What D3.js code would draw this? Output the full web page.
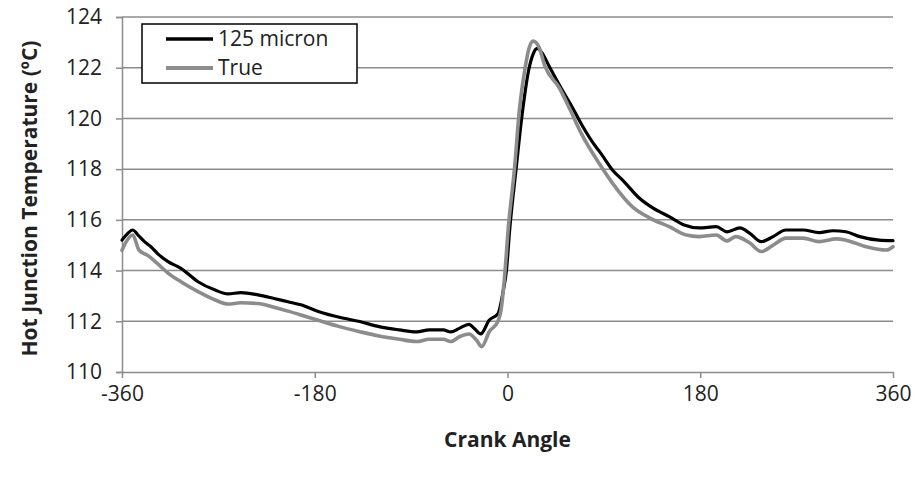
<!DOCTYPE html>
<html>
<head>
<meta charset="utf-8">
<script src="https://cdn.jsdelivr.net/npm/d3@7"></script>
<style>
  body { margin: 0; background: #fff; }
  text { font-family: "Open Sans", "Noto Sans", sans-serif; fill: #222; }
</style>
</head>
<body>
<div id="chart"></div>
<script>
// 125 micron thermocouple
const micronAngle = [-360, -355, -350, -345, -339, -333, -327, -317, -305, -289, -273, -261, -249, -233, -218, -205,
  -193, -176, -157, -138, -120, -101, -85, -73, -60, -53, -45, -36, -31, -25, -17, -9, -4, -1, 2, 8, 13.5, 20,
  24, 28, 32, 39, 50, 61, 70, 83, 86, 98, 109, 123, 136, 151, 165, 179, 195, 205, 217, 226, 237, 248, 260, 276,
  291, 304, 316, 329, 347, 360];
const micronTemp = [115.2, 115.45, 115.6, 115.4, 115.14, 114.94, 114.68, 114.35, 114.09, 113.56, 113.23, 113.08, 113.13,
  113.04, 112.9, 112.77, 112.65, 112.38, 112.16, 111.99, 111.79, 111.66, 111.58, 111.66, 111.66, 111.58, 111.72, 111.88,
  111.72, 111.5, 112.05, 112.29, 113.2, 114.0, 115.6, 118.0, 120.1, 121.95, 122.55, 122.76, 122.6, 122.05, 121.2, 120.4,
  119.7, 118.85, 118.69, 117.97, 117.5, 116.86, 116.46, 116.13, 115.8, 115.68, 115.73, 115.53, 115.68, 115.48, 115.14,
  115.34, 115.6, 115.6, 115.5, 115.57, 115.53, 115.34, 115.2, 115.18];

// true temperature
const trueAngle = [-360, -356, -350, -344, -336, -327, -317, -305, -289, -273, -261, -249, -233, -218, -205, -193,
  -176, -157, -138, -120, -101, -85, -73, -60, -53, -45, -36, -29, -24, -17, -9, -6, -3, 1, 6.5, 11, 16.5, 20, 24,
  29, 35, 48.5, 59.5, 69, 86, 98, 117, 133, 151, 167, 179, 195, 205, 213, 226, 237, 248, 260, 276, 291, 307, 316, 335,
  354, 360];
const trueTemp = [114.8, 115.14, 115.4, 114.8, 114.6, 114.28, 113.9, 113.56, 113.17, 112.84, 112.68, 112.73, 112.7,
  112.55, 112.4, 112.25, 112.03, 111.79, 111.59, 111.42, 111.29, 111.2, 111.29, 111.29, 111.2, 111.39, 111.5, 111.26,
  111.0, 111.59, 111.99, 112.45, 113.63, 115.8, 118.0, 120.3, 122.0, 122.75, 123.05, 122.85, 122.05, 121.2, 120.25, 119.4,
  118.2, 117.45, 116.5, 116.07, 115.73, 115.4, 115.34, 115.4, 115.17, 115.34, 115.1, 114.75, 115.0, 115.28, 115.28,
  115.14, 115.25, 115.2, 114.94, 114.81, 114.94];

const xTicks = [-360, -180, 0, 180, 360];
const yTicks = [110, 112, 114, 116, 118, 120, 122, 124];
const seriesNames = ["125 micron", "True"];

const marge = {dalt: 17, dreta: 22, baix: 106, esquerra: 122},
  W = 915, H = 478,
  amplada = W - marge.esquerra - marge.dreta,
  alçada = H - marge.dalt - marge.baix;

const gris = "#8c8c8c";

const svg = d3.select("#chart").append("svg")
  .attr("width", W).attr("height", H);
const g = svg.append("g")
  .attr("transform", `translate(${marge.esquerra},${marge.dalt})`);

const x = d3.scaleLinear().domain([-360, 360]).range([0, amplada]);
const y = d3.scaleLinear().domain([110, 124]).range([alçada, 0]);

// horizontal gridlines
g.append("g").selectAll("line")
  .data(yTicks.slice(1))
  .enter().append("line")
    .attr("x1", 0).attr("x2", amplada)
    .attr("y1", d => y(d)).attr("y2", d => y(d))
    .attr("stroke", gris).attr("stroke-width", 1.5);

// y axis
const yAxis = g.append("g")
  .call(d3.axisLeft(y).tickValues(yTicks).tickSize(6).tickPadding(14).tickFormat(d => String(d)));
yAxis.select(".domain").attr("stroke", gris).attr("stroke-width", 1.5);
yAxis.selectAll(".tick line").attr("stroke", gris).attr("stroke-width", 1.5);
yAxis.selectAll(".tick text").attr("font-size", 21).attr("font-family", '"Open Sans"').attr("fill", "#222");

// x axis
const xAxis = g.append("g")
  .attr("transform", `translate(0,${alçada})`)
  .call(d3.axisBottom(x).tickValues(xTicks).tickSize(6).tickSizeOuter(0).tickPadding(8).tickFormat(d => String(d)));
xAxis.select(".domain").attr("stroke", gris).attr("stroke-width", 1.5);
xAxis.selectAll(".tick line").attr("stroke", gris).attr("stroke-width", 1.5);
xAxis.selectAll(".tick text").attr("font-size", 21).attr("font-family", '"Open Sans"').attr("fill", "#222");

// curves
const line = d3.line()
  .x(d => x(d[0]))
  .y(d => y(d[1]))
  .curve(d3.curveMonotoneX);

const dades = [
  {nom: seriesNames[0], punts: d3.zip(micronAngle, micronTemp), col: "#000", grx: 3.2},
  {nom: seriesNames[1], punts: d3.zip(trueAngle, trueTemp), col: gris, grx: 3.6}
];

g.append("g").selectAll("path")
  .data(dades)
  .enter().append("path")
    .attr("d", d => line(d.punts))
    .attr("fill", "none")
    .attr("stroke", d => d.col)
    .attr("stroke-width", d => d.grx)
    .attr("stroke-linejoin", "round")
    .attr("stroke-linecap", "round");

// legend
const lleg = svg.append("g").attr("transform", "translate(142,24)");
lleg.append("rect")
  .attr("width", 215).attr("height", 59)
  .attr("fill", "#fff").attr("stroke", "#000").attr("stroke-width", 1.5);
dades.forEach((d, i) => {
  const yy = 15 + i * 29;
  lleg.append("line")
    .attr("x1", 24).attr("x2", 71).attr("y1", yy).attr("y2", yy)
    .attr("stroke", d.col).attr("stroke-width", d.grx + 0.5);
  lleg.append("text")
    .attr("x", 76).attr("y", yy)
    .attr("dy", "0.35em")
    .attr("font-size", 21)
    .text(d.nom);
});

// axis titles
svg.append("text")
  .attr("x", marge.esquerra + x(0)).attr("y", 447)
  .attr("text-anchor", "middle")
  .attr("font-size", 21).attr("font-weight", "bold")
  .text("Crank Angle");

svg.append("text")
  .attr("transform", `translate(30,${marge.dalt + alçada / 2 + 4}) rotate(-90)`)
  .attr("text-anchor", "middle")
  .attr("dy", "0.35em")
  .attr("font-size", 21).attr("font-weight", "bold")
  .text("Hot Junction Temperature (ºC)");
</script>
</body>
</html>
